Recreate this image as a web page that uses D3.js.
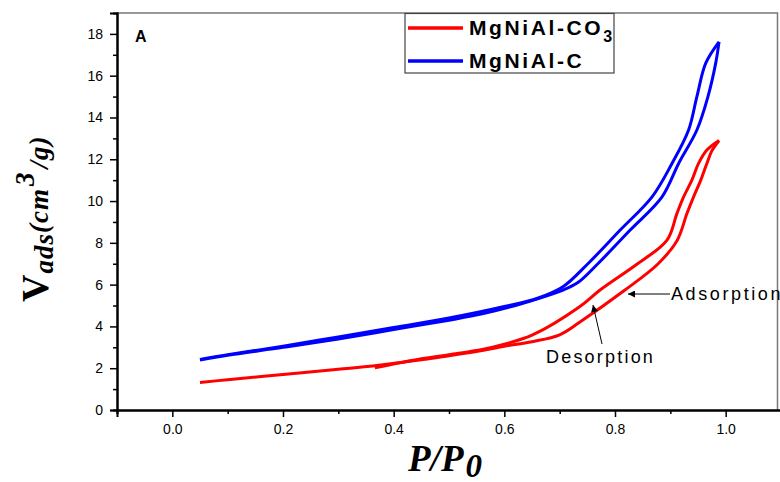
<!DOCTYPE html>
<html>
<head>
<meta charset="utf-8">
<script src="https://cdn.jsdelivr.net/npm/d3@7"></script>
<style>
  body { margin: 0; background: #fff; }
  svg { display: block; }
</style>
</head>
<body>
<div id="chart"></div>
<script>
// isotherm data (P/P0 vs V ads)
const co3AdsP = [0.05, 0.1, 0.2, 0.3, 0.366, 0.45, 0.5, 0.56, 0.6, 0.65, 0.7, 0.736, 0.818, 0.878, 0.912, 0.93, 0.942, 0.955, 0.966, 0.975, 0.988];
const co3AdsV = [1.32, 1.45, 1.7, 1.95, 2.12, 2.4, 2.6, 2.85, 3.05, 3.27, 3.6, 4.2, 5.74, 7.0, 8.1, 9.4, 10.2, 11.0, 11.8, 12.4, 12.9];
const co3DesP = [0.988, 0.966, 0.951, 0.939, 0.924, 0.912, 0.894, 0.842, 0.773, 0.736, 0.651, 0.6, 0.56, 0.5, 0.45, 0.366];
const co3DesV = [12.9, 12.44, 11.8, 11.0, 10.2, 9.41, 8.13, 7.02, 5.74, 4.94, 3.59, 3.15, 2.9, 2.65, 2.45, 2.02];

const cAdsP = [0.05, 0.1, 0.2, 0.3, 0.4, 0.5, 0.56, 0.62, 0.67, 0.706, 0.733, 0.769, 0.827, 0.885, 0.915, 0.948, 0.968, 0.982, 0.988];
const cAdsV = [2.39, 2.62, 3.0, 3.4, 3.85, 4.3, 4.6, 5.0, 5.4, 5.74, 6.1, 7.0, 8.6, 10.2, 11.8, 13.4, 15.0, 16.6, 17.62];
const cDesP = [0.988, 0.964, 0.948, 0.933, 0.903, 0.867, 0.809, 0.751, 0.706, 0.66, 0.6, 0.5, 0.4, 0.3, 0.2, 0.1, 0.05];
const cDesV = [17.62, 16.6, 15.0, 13.4, 11.8, 10.2, 8.6, 7.0, 5.9, 5.35, 4.95, 4.4, 3.95, 3.5, 3.05, 2.65, 2.42];

const xTicks = [0.0, 0.2, 0.4, 0.6, 0.8, 1.0];
const yTicks = [0, 2, 4, 6, 8, 10, 12, 14, 16, 18];

const W = 780, H = 482;
const margin = {top: 13, right: 2, bottom: 72, left: 117};

const svg = d3.select("#chart").append("svg")
  .attr("width", W).attr("height", H);

const x = d3.scaleLinear().domain([-0.1, 1.1]).range([margin.left, W - margin.right + 3]);
const y = d3.scaleLinear().domain([0, 19]).range([H - margin.bottom, margin.top]);

const sans = "'Liberation Sans', Arial, sans-serif";
const serif = "'Liberation Serif', 'Times New Roman', serif";

// top + right frame (grey)
svg.append("path")
  .attr("d", `M${x(-0.1)},${y(19)}H${W - 2.5}V${y(0)}`)
  .attr("fill", "none").attr("stroke", "#777").attr("stroke-width", 1.5);

// curves
const line = d3.line().x(d => x(d[0])).y(d => y(d[1])).curve(d3.curveCatmullRom.alpha(0.5));
const branches = [
  {p: co3AdsP, v: co3AdsV, c: "#ff0000"},
  {p: co3DesP, v: co3DesV, c: "#ff0000"},
  {p: cAdsP, v: cAdsV, c: "#0000ff"},
  {p: cDesP, v: cDesV, c: "#0000ff"}
];
svg.selectAll(".branch").data(branches).join("path")
  .attr("class", "branch")
  .attr("d", b => line(b.p.map((p, i) => [p, b.v[i]])))
  .attr("fill", "none")
  .attr("stroke", b => b.c)
  .attr("stroke-width", 3)
  .attr("stroke-linejoin", "round");

// axes
const xAxis = svg.append("g").attr("transform", `translate(0,${y(0)})`)
  .call(d3.axisBottom(x).tickValues(xTicks).tickFormat(d3.format(".1f")).tickSize(7).tickPadding(7));
const xMinor = svg.append("g").attr("transform", `translate(0,${y(0)})`)
  .call(d3.axisBottom(x).tickValues(d3.range(-0.1, 1.15, 0.2)).tickFormat("").tickSize(4));
const yAxis = svg.append("g").attr("transform", `translate(${x(-0.1)},0)`)
  .call(d3.axisLeft(y).tickValues(yTicks).tickSize(7).tickPadding(7));
const yMinor = svg.append("g").attr("transform", `translate(${x(-0.1)},0)`)
  .call(d3.axisLeft(y).tickValues(d3.range(1, 19, 2)).tickFormat("").tickSize(4));

[xAxis, xMinor, yAxis, yMinor].forEach(g => {
  g.select(".domain").attr("stroke", "#000").attr("stroke-width", 2);
  g.selectAll(".tick line").attr("stroke", "#000").attr("stroke-width", 1.5);
  g.selectAll("text").attr("font-family", sans).attr("font-size", 14).attr("fill", "#000");
});

// panel letter
svg.append("text").attr("x", 135).attr("y", 42)
  .attr("font-family", sans).attr("font-weight", "bold").attr("font-size", 16).text("A");

// legend
const leg = svg.append("g");
leg.append("rect").attr("x", 405).attr("y", 13.5).attr("width", 209).attr("height", 59.5)
  .attr("fill", "#fff").attr("stroke", "#444").attr("stroke-width", 1.2);
const legItems = [
  {name: "MgNiAl-CO", sub: "3", c: "#ff0000"},
  {name: "MgNiAl-C", sub: "", c: "#0000ff"}
];
legItems.forEach((d, i) => {
  const ly = 28 + i * 33;
  leg.append("line").attr("x1", 408).attr("x2", 463).attr("y1", ly).attr("y2", ly)
    .attr("stroke", d.c).attr("stroke-width", 3.5);
  const t = leg.append("text").attr("x", 469).attr("y", ly + 7)
    .attr("font-family", sans).attr("font-weight", "bold").attr("font-size", 21)
    .attr("letter-spacing", 2.6).text(d.name);
  if (d.sub) t.append("tspan").attr("dy", 7).attr("font-size", 16).text(d.sub);
});

// annotations
svg.append("defs").append("marker")
  .attr("id", "arr").attr("viewBox", "0 0 10 10").attr("refX", 10).attr("refY", 5)
  .attr("markerWidth", 9).attr("markerHeight", 7).attr("orient", "auto")
  .attr("markerUnits", "userSpaceOnUse")
  .append("path").attr("d", "M0,0L10,5L0,10z").attr("fill", "#000");

svg.append("line").attr("x1", 670).attr("y1", 294).attr("x2", 628).attr("y2", 294)
  .attr("stroke", "#000").attr("stroke-width", 1).attr("marker-end", "url(#arr)");
svg.append("text").attr("x", 671).attr("y", 300)
  .attr("font-family", sans).attr("font-size", 18).attr("letter-spacing", 2.6).text("Adsorption");

svg.append("line").attr("x1", 602).attr("y1", 344).attr("x2", 593).attr("y2", 305)
  .attr("stroke", "#000").attr("stroke-width", 1).attr("marker-end", "url(#arr)");
svg.append("text").attr("x", 546).attr("y", 363)
  .attr("font-family", sans).attr("font-size", 18).attr("letter-spacing", 2.2).text("Desorption");

// axis titles
const xt = svg.append("text").attr("x", 408).attr("y", 471)
  .attr("font-family", serif).attr("font-style", "italic").attr("font-weight", "bold")
  .attr("font-size", 37);
xt.append("tspan").text("P/P");
xt.append("tspan").attr("dy", 6).attr("dx", 2).attr("font-size", 33).text("0");

const yt = svg.append("text")
  .attr("transform", "translate(48,302) rotate(-90)")
  .attr("font-family", serif).attr("font-style", "italic").attr("font-weight", "bold")
  .attr("font-size", 27).attr("letter-spacing", 1);
yt.append("tspan").attr("font-size", 38).attr("font-style", "normal").text("V");
yt.append("tspan").attr("dy", 5).text("ads");
yt.append("tspan").attr("dy", -5).text("(cm");
yt.append("tspan").attr("dy", -14).attr("dx", 2).text("3");
yt.append("tspan").attr("dy", 14).attr("dx", 3).text("/g)");
</script>
</body>
</html>
